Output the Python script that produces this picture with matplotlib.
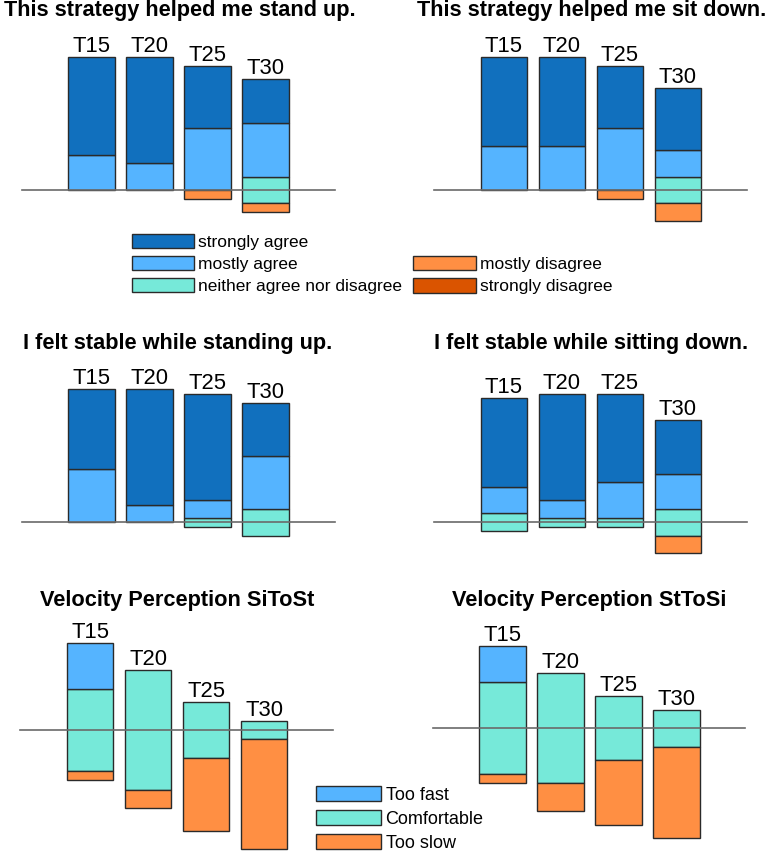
import matplotlib
matplotlib.use("Agg")
import matplotlib.pyplot as plt
from matplotlib.patches import Patch

plt.rcParams['font.family'] = ['Liberation Sans', 'DejaVu Sans']

trials = ['T15', 'T20', 'T25', 'T30']

# agreement answers (number of participants), per trial
agree_levels = ['strongly agree', 'mostly agree', 'neither agree nor disagree',
                'mostly disagree', 'strongly disagree']
stand_helped = {'strongly agree': [11, 12, 7, 5], 'mostly agree': [4, 3, 7, 6],
                'neither agree nor disagree': [0, 0, 0, 3],
                'mostly disagree': [0, 0, 1, 1], 'strongly disagree': [0, 0, 0, 0]}
sit_helped = {'strongly agree': [10, 10, 7, 7], 'mostly agree': [5, 5, 7, 3],
              'neither agree nor disagree': [0, 0, 0, 3],
              'mostly disagree': [0, 0, 1, 2], 'strongly disagree': [0, 0, 0, 0]}
stable_stand = {'strongly agree': [9, 13, 12, 6], 'mostly agree': [6, 2, 2, 6],
                'neither agree nor disagree': [0, 0, 1, 3],
                'mostly disagree': [0, 0, 0, 0], 'strongly disagree': [0, 0, 0, 0]}
stable_sit = {'strongly agree': [10, 12, 10, 6], 'mostly agree': [3, 2, 4, 4],
              'neither agree nor disagree': [2, 1, 1, 3],
              'mostly disagree': [0, 0, 0, 2], 'strongly disagree': [0, 0, 0, 0]}

# velocity perception answers
vel_levels = ['Too fast', 'Comfortable', 'Too slow']
vel_sitost = {'Too fast': [5, 0, 0, 0], 'Comfortable': [9, 13, 6, 2], 'Too slow': [1, 2, 8, 12]}
vel_sttosi = {'Too fast': [4, 0, 0, 0], 'Comfortable': [10, 12, 7, 4], 'Too slow': [1, 3, 7, 10]}

colors = {'strongly agree': '#1170BE', 'mostly agree': '#55B4FF',
          'neither agree nor disagree': '#76E9D9', 'mostly disagree': '#FF8F43',
          'strongly disagree': '#DA5400',
          'Too fast': '#55B4FF', 'Comfortable': '#76E9D9', 'Too slow': '#FF8F43'}

W, H = 767, 851
fig = plt.figure(figsize=(W / 100, H / 100), dpi=100)


def make_ax(x0, y0, unit, dx=58.0):
    # axes over the whole figure, mapped so bar i sits at pixel x0 + i*dx, zero at pixel y0
    ax = fig.add_axes([0, 0, 1, 1])
    ax.patch.set_alpha(0)
    ax.set_xlim((0 - x0) / dx, (W - x0) / dx)
    ax.set_ylim((y0 - H) / unit, y0 / unit)
    ax.axis('off')
    return ax


def diverging(ax, data, up, mid, down):
    # up: positive levels from the middle out, down: negative levels from the middle out
    x = range(len(trials))
    for i in x:
        m = data[mid][i] if mid else 0
        top = m / 2
        if m:
            ax.bar(i, m, bottom=-m / 2, width=0.8, color=colors[mid], edgecolor='#2a2a2a', lw=1.0)
        for lev in up:
            v = data[lev][i]
            if v:
                ax.bar(i, v, bottom=top, width=0.8, color=colors[lev], edgecolor='#2a2a2a', lw=1.0)
                top += v
        low = -m / 2
        for lev in down:
            v = data[lev][i]
            if v:
                ax.bar(i, -v, bottom=low, width=0.8, color=colors[lev], edgecolor='#2a2a2a', lw=1.0)
                low -= v
        ax.text(i, top + 0.55, trials[i], ha='center', va='baseline', fontsize=15.8)
    ax.plot([-1.2, 4.19], [0, 0], color='#6a6a6a', lw=1.2, zorder=5)


agree_up = ['mostly agree', 'strongly agree']
agree_down = ['mostly disagree', 'strongly disagree']
mid_a = 'neither agree nor disagree'

ax1 = make_ax(91.5, 190, 8.87)
diverging(ax1, stand_helped, agree_up, mid_a, agree_down)
ax2 = make_ax(503.8, 190, 8.87)
diverging(ax2, sit_helped, agree_up, mid_a, agree_down)
ax3 = make_ax(91.5, 522.3, 8.87)
diverging(ax3, stable_stand, agree_up, mid_a, agree_down)
ax4 = make_ax(503.8, 522.3, 8.87)
diverging(ax4, stable_sit, agree_up, mid_a, agree_down)
ax5 = make_ax(90, 730, 9.18)
diverging(ax5, vel_sitost, ['Too fast'], 'Comfortable', ['Too slow'])
ax6 = make_ax(502.3, 728.3, 9.18)
diverging(ax6, vel_sttosi, ['Too fast'], 'Comfortable', ['Too slow'])

titles = [("This strategy helped me stand up.", 180, 16),
          ("This strategy helped me sit down.", 592, 16),
          ("I felt stable while standing up.", 178, 349),
          ("I felt stable while sitting down.", 591, 349),
          ("Velocity Perception SiToSt", 177, 606),
          ("Velocity Perception StToSi", 589, 606)]
for t, px, py in titles:
    fig.text(px / W, 1 - py / H, t, ha='center', va='baseline', fontsize=15.7, fontweight='bold')


def handles(levels):
    return [Patch(facecolor=colors[l], edgecolor='#2a2a2a', lw=1.0, label=l) for l in levels]


leg_kw = dict(frameon=False, borderpad=0, borderaxespad=0, handletextpad=0.25,
              handlelength=3.6, handleheight=0.9, labelspacing=0.35)
fig.legend(handles=handles(agree_levels[:3]), loc='upper left',
           bbox_to_anchor=(131.5 / W, 1 - 233.5 / H), fontsize=12.5, **leg_kw)
fig.legend(handles=handles(agree_levels[3:]), loc='upper left',
           bbox_to_anchor=(413 / W, 1 - 256 / H), fontsize=12.5, **leg_kw)
fig.legend(handles=handles(vel_levels), loc='upper left',
           bbox_to_anchor=(316 / W, 1 - 786 / H), fontsize=13, **leg_kw)

fig.savefig('out.png', dpi=100)
